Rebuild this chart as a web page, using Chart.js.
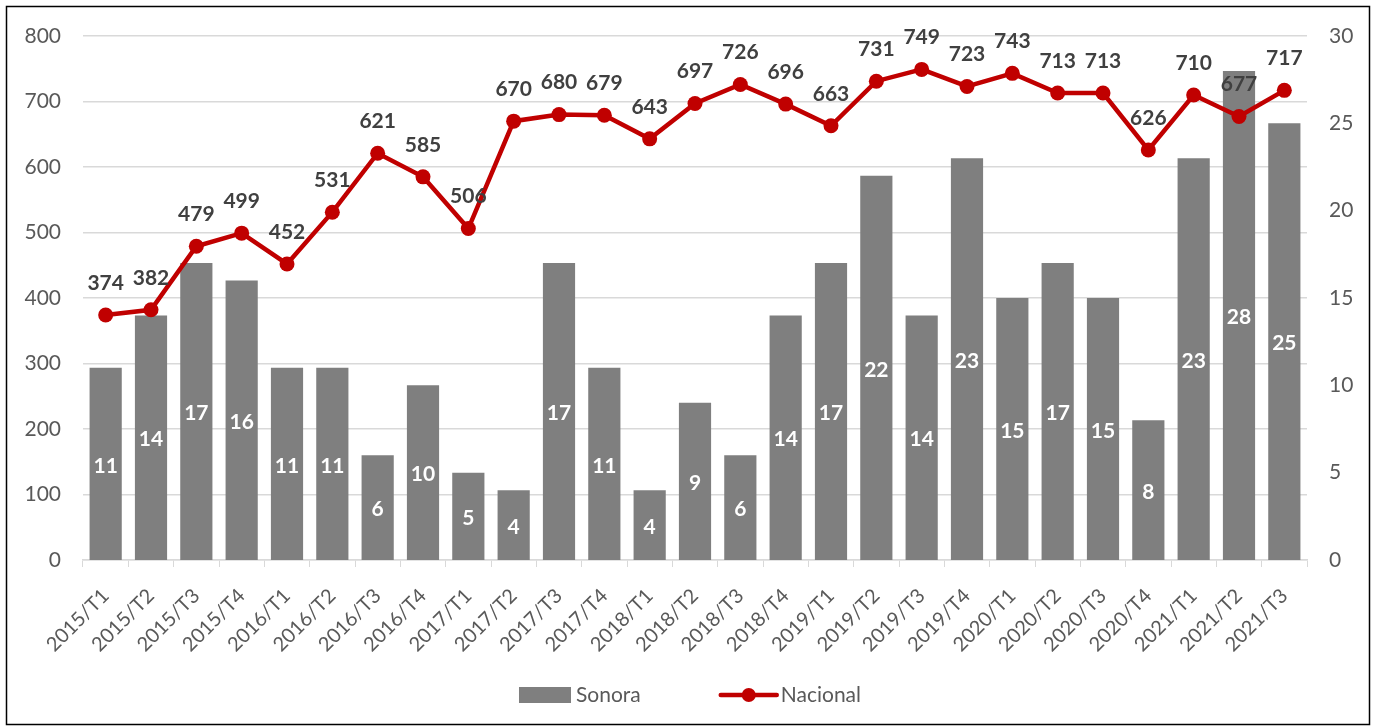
<!DOCTYPE html>
<html>
<head>
<meta charset="utf-8">
<script src="https://cdn.jsdelivr.net/npm/chart.js@4.4.1/dist/chart.umd.min.js"></script>
<style>
  html, body { margin:0; padding:0; background:#fff; }
  #wrap { width:1376px; height:728px; }
</style>
</head>
<body>
<div id="wrap"><canvas id="chart" width="1376" height="728"></canvas></div>
<script>
// quarters
const periods = ['2015/T1','2015/T2','2015/T3','2015/T4','2016/T1','2016/T2','2016/T3','2016/T4',
  '2017/T1','2017/T2','2017/T3','2017/T4','2018/T1','2018/T2','2018/T3','2018/T4',
  '2019/T1','2019/T2','2019/T3','2019/T4','2020/T1','2020/T2','2020/T3','2020/T4',
  '2021/T1','2021/T2','2021/T3'];
const sonora = [11,14,17,16,11,11,6,10,5,4,17,11,4,9,6,14,17,22,14,23,15,17,15,8,23,28,25];
const nacional = [374,382,479,499,452,531,621,585,506,670,680,679,643,697,726,696,663,731,749,723,743,713,713,626,710,677,717];

const FONT = 'Lato, "Open Sans", sans-serif';
const GREY_BAR = '#7f7f7f';
const RED = '#c00000';
const TXT = '#595959';

// frame + background
const framePlugin = {
  id: 'frame',
  beforeDraw(chart){
    const c = chart.ctx;
    c.save();
    c.fillStyle = '#fff';
    c.fillRect(0,0,chart.width,chart.height);
    c.strokeStyle = '#000';
    c.lineWidth = 1.5;
    c.strokeRect(6.5,6.5,chart.width-13,chart.height-10);
    c.restore();
  }
};

// value labels (no datalabels plugin available)
const labelPlugin = {
  id: 'valueLabels',
  afterDatasetsDraw(chart){
    const c = chart.ctx;
    c.save();
    c.font = 'bold 21px ' + FONT;
    c.textAlign = 'center';
    c.textBaseline = 'middle';
    // bars: white, centered
    const barMeta = chart.getDatasetMeta(1);
    barMeta.data.forEach((el, i) => {
      const mid = (el.y + el.base) / 2;
      c.fillStyle = '#fff';
      c.fillText(sonora[i], el.x, mid + 2);
    });
    // line: dark, above point
    const lineMeta = chart.getDatasetMeta(0);
    lineMeta.data.forEach((el, i) => {
      c.fillStyle = '#404040';
      c.fillText(nacional[i], el.x, el.y - 32);
    });
    c.restore();
  }
};

// legend drawn by hand (Excel style)
const legendPlugin = {
  id: 'xlLegend',
  afterDraw(chart){
    const c = chart.ctx;
    c.save();
    c.font = '21px ' + FONT;
    c.textBaseline = 'middle';
    const y = 695;
    const w1 = c.measureText('Sonora').width;
    const w2 = c.measureText('Nacional').width;
    const gap = 80;
    const total = 52 + 5 + w1 + gap + 56 + 4 + w2;
    let x = chart.width/2 - total/2 + 2;
    c.fillStyle = GREY_BAR;
    c.fillRect(x, y-8, 52, 16);
    c.fillStyle = TXT;
    c.fillText('Sonora', x + 57, y);
    x += 57 + w1 + gap;
    c.strokeStyle = RED;
    c.lineWidth = 4.5;
    c.lineCap = 'round';
    c.beginPath(); c.moveTo(x, y); c.lineTo(x+56, y); c.stroke();
    c.fillStyle = RED;
    c.beginPath(); c.arc(x+28, y, 7, 0, Math.PI*2); c.fill();
    c.fillStyle = TXT;
    c.fillText('Nacional', x + 60, y);
    c.restore();
  }
};

new Chart(document.getElementById('chart').getContext('2d'), {
  data: {
    labels: periods,
    datasets: [
      {
        type: 'line', label: 'Nacional', data: nacional, yAxisID: 'y',
        borderColor: RED, backgroundColor: RED, borderWidth: 4.5,
        pointRadius: 7.5, pointHoverRadius: 7.5, pointBackgroundColor: RED, pointBorderWidth: 0,
        tension: 0, order: 0
      },
      {
        type: 'bar', label: 'Sonora', data: sonora, yAxisID: 'y2',
        backgroundColor: GREY_BAR, borderWidth: 0,
        categoryPercentage: 1, barPercentage: 0.71, order: 1
      }
    ]
  },
  options: {
    responsive: false,
    animation: false,
    layout: { padding: { top: 36, left: 0, right: 0, bottom: 0 } },
    plugins: { legend: { display: false }, tooltip: { enabled: false } },
    scales: {
      x: {
        offset: true,
        grid: { display: true, drawOnChartArea: false, drawTicks: true, tickLength: 7, color: '#d9d9d9', offset: true },
        border: { display: true, color: '#d9d9d9', width: 1.5 },
        ticks: { color: TXT, font: { family: FONT, size: 20 }, minRotation: 45, maxRotation: 45, padding: 17, autoSkip: false },
        afterFit(s){ s.height = 168; }
      },
      y: {
        position: 'left', min: 0, max: 800,
        ticks: { stepSize: 100, color: TXT, font: { family: FONT, size: 21 }, padding: 22 },
        grid: { color: '#d9d9d9', lineWidth: 1.5, drawTicks: false },
        border: { display: false },
        afterFit(s){ s.width = 83; }
      },
      y2: {
        position: 'right', min: 0, max: 30,
        ticks: { stepSize: 5, color: TXT, font: { family: FONT, size: 21 }, padding: 22 },
        grid: { display: false, drawTicks: false },
        border: { display: false },
        afterFit(s){ s.width = 69; }
      }
    }
  },
  plugins: [framePlugin, labelPlugin, legendPlugin]
});
</script>
</body>
</html>
